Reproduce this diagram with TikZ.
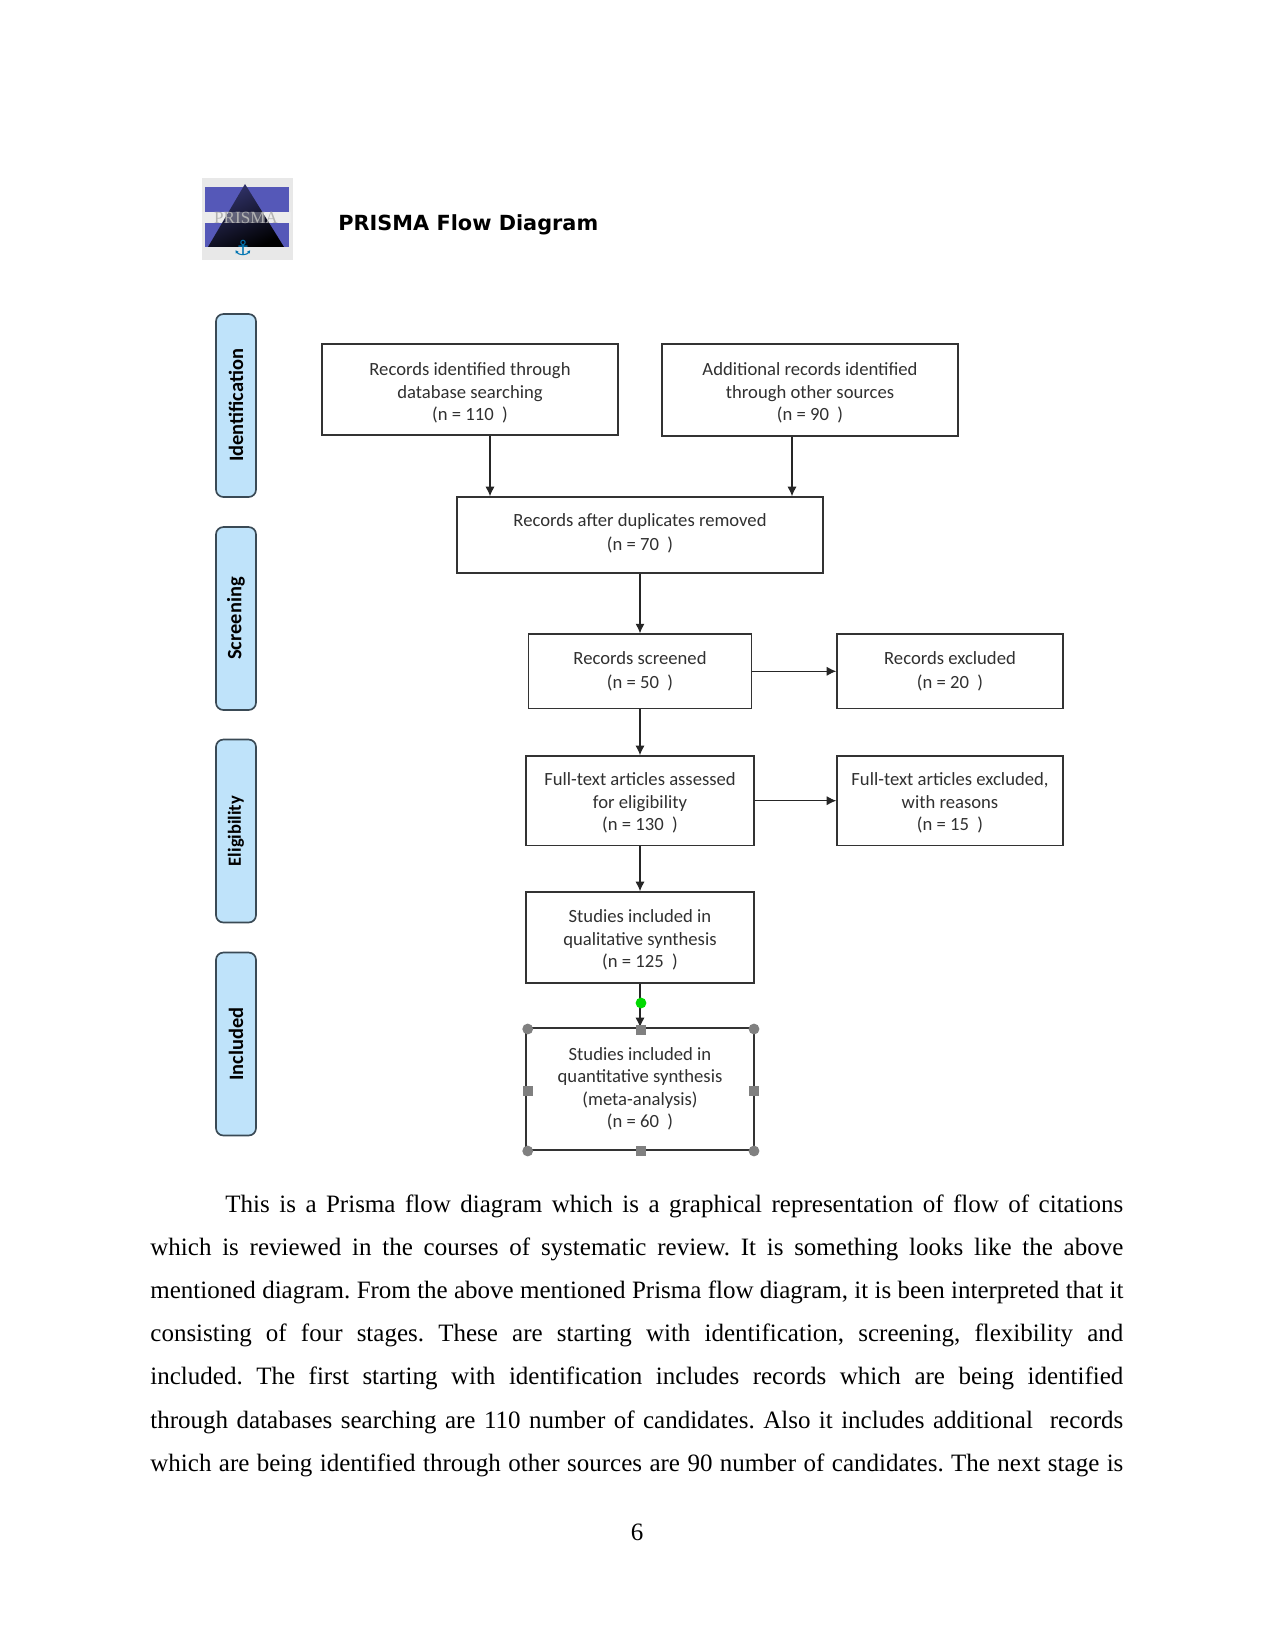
\documentclass[tikz,border=0pt]{standalone}
\usepackage{fontspec}
\setmainfont{Liberation Serif}
\newfontfamily\boxfont{Carlito}
\newfontfamily\titlefont{DejaVu Sans}
\newfontfamily\symbfont{DejaVu Sans}
\usepackage{xcolor}
\usetikzlibrary{arrows.meta}
\definecolor{stageblue}{HTML}{BFE3FA}
\definecolor{stageline}{HTML}{3A4A55}
\definecolor{boxtext}{HTML}{303030}
\definecolor{handlegray}{HTML}{808080}
\definecolor{logoblue}{HTML}{5558B8}
\newcommand{\toppad}[1]{\rule{0pt}{#1}}
\newcommand{\bodyline}[1]{\hbox to 467pt{\frenchspacing #1}}

\begin{document}
\begin{tikzpicture}[
  x=0.48pt, y=-0.48pt, >={Latex[length=4.6pt,width=4.4pt]},
  flowbox/.style={draw=black!80,line width=0.65pt,inner sep=0pt,align=center,text=boxtext,font=\boxfont\fontsize{8.95}{10.8}\selectfont},
  stage/.style={draw=stageline,line width=0.8pt,fill=stageblue,rounded corners=3.5pt,rotate=90,minimum width=87.8pt,minimum height=19.2pt,inner sep=0pt,font=\boxfont\bfseries\fontsize{9.8}{12}\selectfont},
  flowarrow/.style={->,line width=0.6pt,black!85},
  handleround/.style={circle,fill=handlegray,inner sep=0pt,minimum size=5.2pt},
  handlesquare/.style={rectangle,fill=handlegray,inner sep=0pt,minimum size=4.8pt}
]
  \useasboundingbox (0,0) rectangle (1275,1651);

  % logo
  \fill[black!9] (202,178) rectangle (293,260);
  \fill[logoblue] (205,187) rectangle (289,247);
  \fill[white!85!gray] (202,212) rectangle (291,223);
  \shade[top color=logoblue!60!black,bottom color=black,shading angle=25] (245,184) -- (284,247) -- (208,247) -- cycle;
  \fill[white,opacity=.3] (226,212) rectangle (265,223);
  \node[inner sep=0pt,text=black!30,font=\fontsize{8.2}{9}\selectfont] (logotext) at (246,218) {PRISMA};
  \node[inner sep=0pt,text=blue!35!cyan!70!black,font=\symbfont\fontsize{10}{11}\selectfont] (anchor) at (243,248) {⚓};

  \node[anchor=west,inner sep=0pt,font=\titlefont\bfseries\fontsize{10}{12}\selectfont] (title) at (338,224.5) {PRISMA Flow Diagram};

  % stages
  \node[stage] (identification) at (236,405.5) {Identification};
  \node[stage] (screening) at (236,618.5) {Screening};
  \node[stage,font=\boxfont\bfseries\fontsize{8.9}{12}\selectfont] (eligibility) at (236,831) {Eligibility};
  \node[stage] (included) at (236,1044) {Included};

  % boxes
  \node[flowbox,minimum width=142pt,minimum height=43.7pt] (recdb) at (470,389.5) {\toppad{9.5pt}Records identified through\\database searching\\(n = 110~~)};
  \node[flowbox,minimum width=142pt,minimum height=44.2pt] (recother) at (810,390) {\toppad{9pt}Additional records identified\\through other sources\\(n = 90~~)};
  \node[flowbox,minimum width=175.7pt,minimum height=36.5pt] (dup) at (640,535) {Records after duplicates removed\\[1pt](n = 70~~)\rule[-2.8pt]{0pt}{0pt}};
  \node[flowbox,minimum width=107.3pt,minimum height=35.8pt] (screened) at (640,671.3) {Records screened\\[0.7pt](n = 50~~)};
  \node[flowbox,minimum width=108.5pt,minimum height=35.8pt] (excluded) at (950,671.3) {Records excluded\\[0.7pt](n = 20~~)};
  \node[flowbox,minimum width=109.4pt,minimum height=43pt] (fulltext) at (640,800.7) {\toppad{8.6pt}Full-text articles assessed\\for eligibility\\(n = 130~~)};
  \node[flowbox,minimum width=108.5pt,minimum height=43pt] (fullexcl) at (950,800.7) {\toppad{8.6pt}Full-text articles excluded,\\with reasons\\(n = 15~~)};
  \node[flowbox,minimum width=109.4pt,minimum height=43.7pt] (qual) at (640,937.5) {\toppad{8.8pt}Studies included in\\qualitative synthesis\\(n = 125~~)};
  \node[flowbox,minimum width=109.4pt,minimum height=58.6pt] (quant) at (640,1089) {Studies included in\\quantitative synthesis\\(meta-analysis)\\(n = 60~~)};

  % connectors
  \coordinate (dupleft) at (490,0);
  \coordinate (dupright) at (792,0);
  \draw[flowarrow] (recdb.south -| dupleft) -- (dup.north -| dupleft);
  \draw[flowarrow] (recother.south -| dupright) -- (dup.north -| dupright);
  \draw[flowarrow] (dup) -- (screened);
  \draw[flowarrow] (screened) -- (excluded);
  \draw[flowarrow] (screened) -- (fulltext);
  \draw[flowarrow] (fulltext) -- (fullexcl);
  \draw[flowarrow] (fulltext) -- (qual);
  \draw[flowarrow] (qual) -- (quant);

  % selection handles
  \node[circle,fill=green!85!black,inner sep=0pt,minimum size=5.2pt] (rotate) at (641,1003) {};
  \node[handleround] (hnw) at (527.7,1029) {};
  \node[handleround] (hne) at (754,1029) {};
  \node[handleround] (hsw) at (527.7,1151) {};
  \node[handleround] (hse) at (754,1151) {};
  \node[handlesquare] (hn) at (641,1029.5) {};
  \node[handlesquare] (hs) at (641,1151) {};
  \node[handlesquare] (hw) at (527.7,1090.7) {};
  \node[handlesquare] (he) at (754,1090.7) {};

  % page text
  \node[anchor=north west,inner sep=0pt,font=\fontsize{12}{20.75}\selectfont] (body) at (150,1194) {\vbox{%
\bodyline{\hspace*{36pt}This is a Prisma flow diagram which is a graphical representation of flow of citations}
\bodyline{which is reviewed in the courses of systematic review. It is something looks like the above}
\bodyline{mentioned diagram. From the above mentioned Prisma flow diagram, it is been interpreted that it}
\bodyline{consisting of four stages. These are starting with identification, screening, flexibility and}
\bodyline{included. The first starting with identification includes records which are being identified}
\bodyline{through databases searching are 110 number of candidates. Also it includes additional\ \ records}
\bodyline{which are being identified through other sources are 90 number of candidates. The next stage is}}};
  \node[inner sep=0pt,font=\fontsize{12}{14}\selectfont] (pagenum) at (637,1532) {6};
\end{tikzpicture}
\end{document}
